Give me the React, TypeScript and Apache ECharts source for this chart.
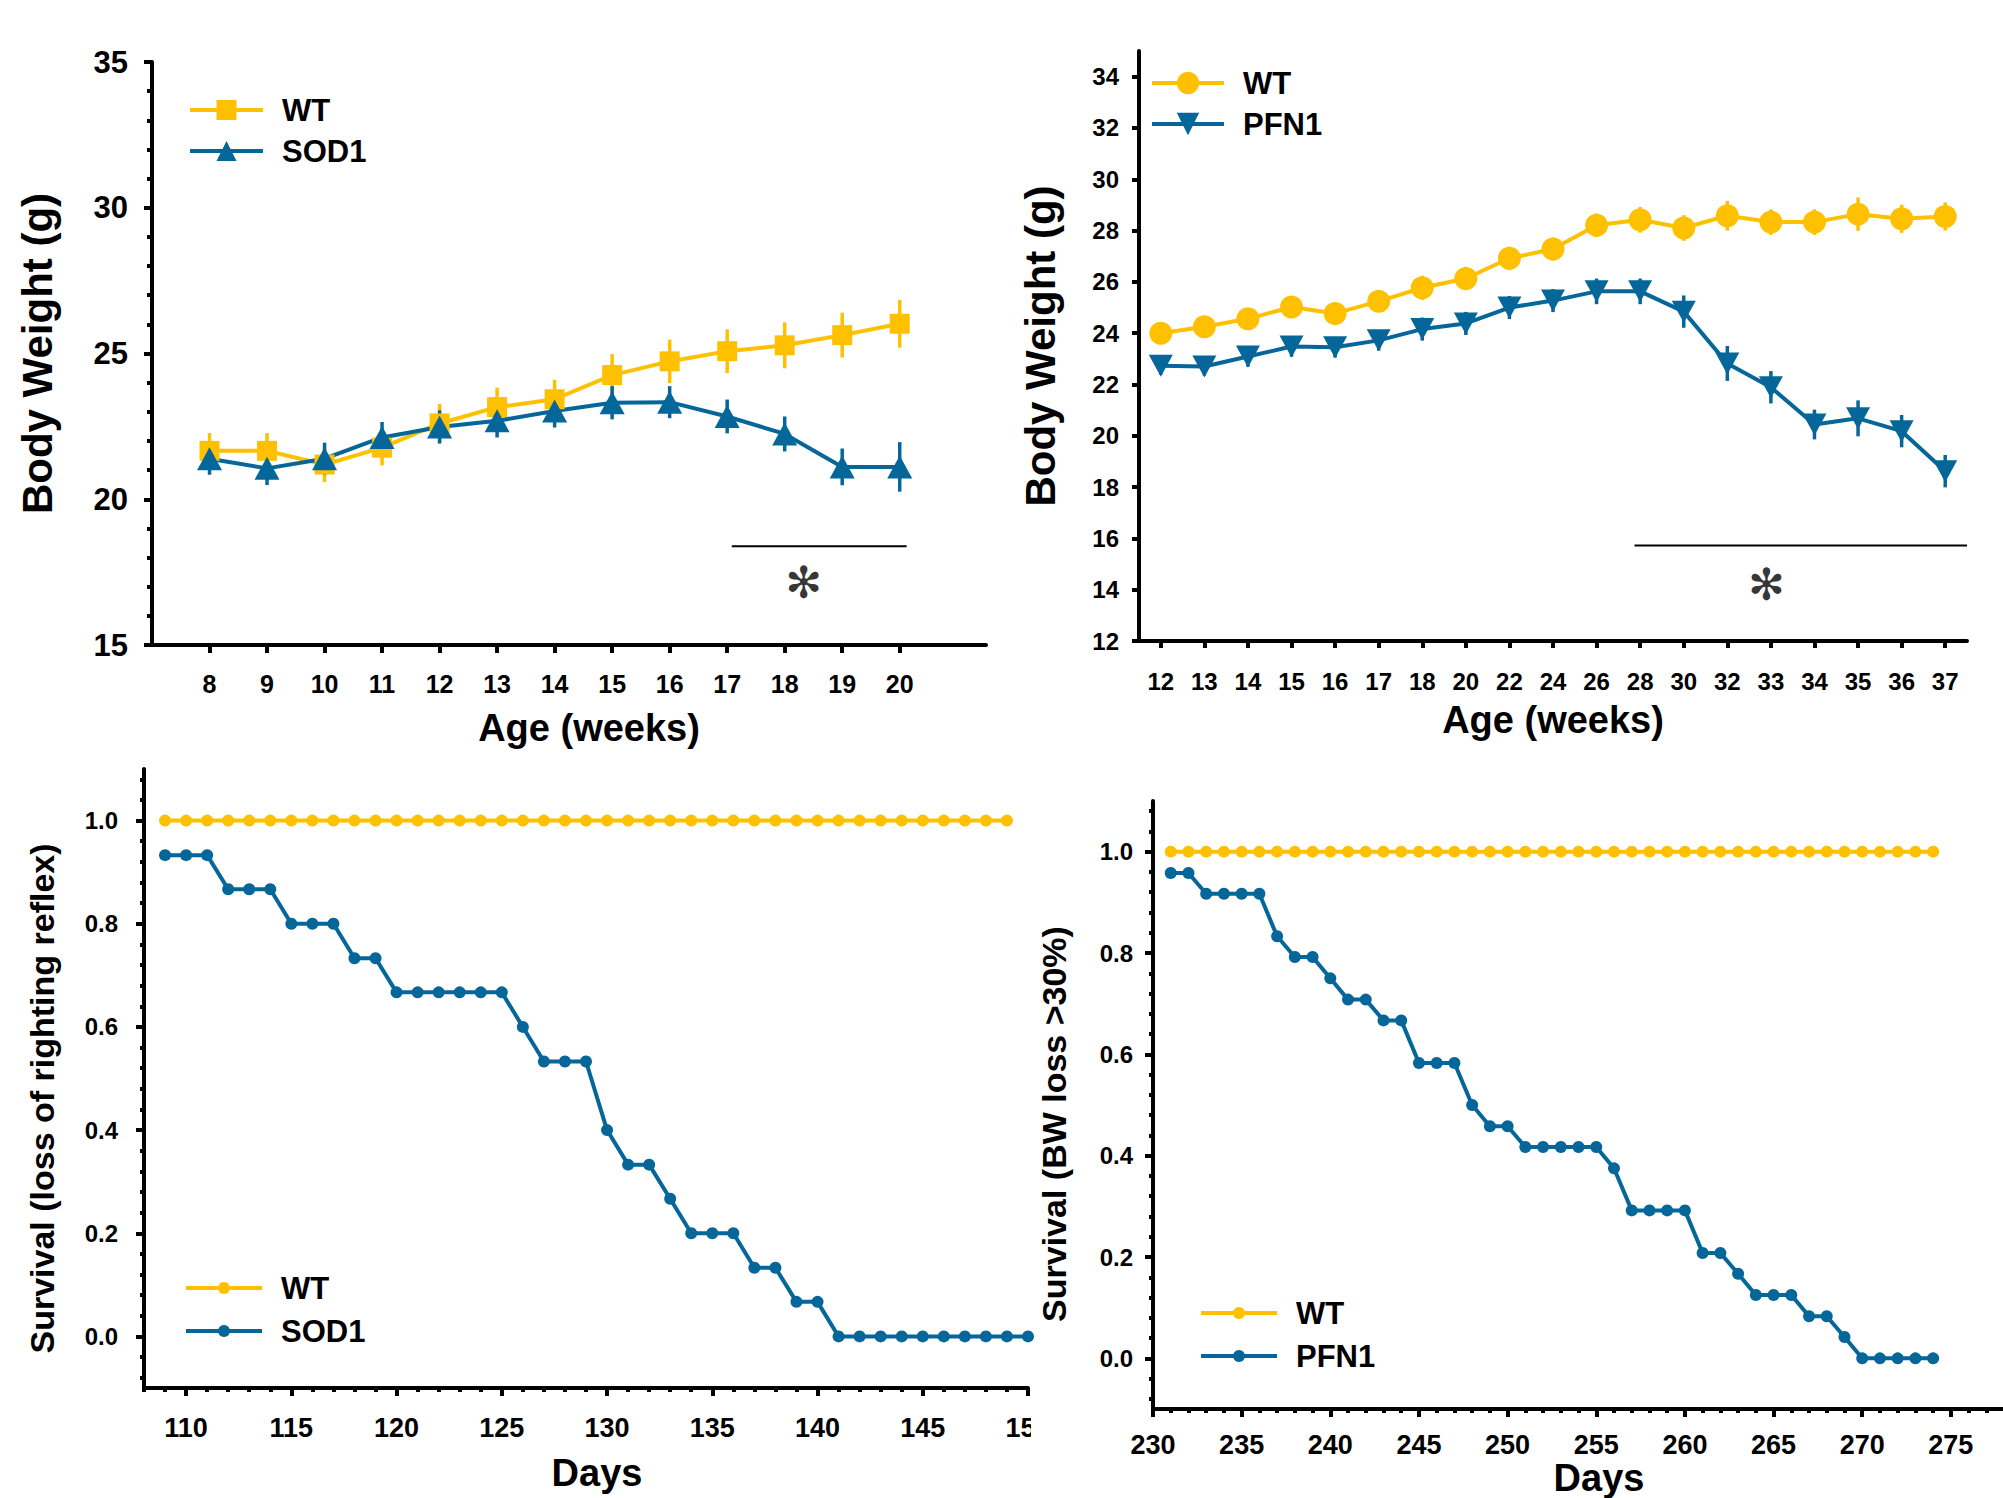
import React, { useEffect, useRef } from 'react';
import * as echarts from 'echarts';

const FONT = '"Liberation Sans", Arial, Helvetica, sans-serif';
const YELLOW = '#FFC000';
const BLUE = '#05669A';

// ---------- Panel A : SOD1 body weight ----------
const weeksA = [8, 9, 10, 11, 12, 13, 14, 15, 16, 17, 18, 19, 20];
const wtA = [21.66, 21.66, 21.19, 21.77, 22.6, 23.16, 23.43, 24.26, 24.73, 25.08, 25.28, 25.63, 26.02];
const wtAErr = [0.61, 0.61, 0.6, 0.61, 0.67, 0.67, 0.67, 0.72, 0.75, 0.75, 0.79, 0.77, 0.82];
const sodA = [21.39, 21.06, 21.39, 22.12, 22.48, 22.69, 23.03, 23.31, 23.33, 22.84, 22.24, 21.11, 21.11];
const sodAErr = [0.55, 0.57, 0.55, 0.53, 0.57, 0.57, 0.57, 0.57, 0.55, 0.58, 0.6, 0.63, 0.85];
const yTicksA = [15, 20, 25, 30, 35];
const sigLineA = [[17.08, 18.39], [20.12, 18.39]];
const starA = [18.33, 17.16];

// ---------- Panel B : PFN1 body weight ----------
const weeksB = ['12', '13', '14', '15', '16', '17', '18', '20', '22', '24', '26', '28', '30', '32', '33', '34', '35', '36', '37'];
const wtB = [24.0, 24.25, 24.56, 25.02, 24.77, 25.24, 25.77, 26.13, 26.92, 27.28, 28.21, 28.42, 28.1, 28.58, 28.33, 28.33, 28.64, 28.46, 28.55];
const wtBErr = [0.35, 0.35, 0.35, 0.4, 0.35, 0.4, 0.47, 0.45, 0.45, 0.45, 0.46, 0.5, 0.5, 0.58, 0.5, 0.5, 0.65, 0.55, 0.55];
const pfnB = [22.73, 22.7, 23.09, 23.48, 23.45, 23.72, 24.16, 24.38, 25.0, 25.27, 25.63, 25.63, 24.84, 22.82, 21.89, 20.44, 20.68, 20.18, 18.62];
const pfnBErr = [0.35, 0.35, 0.4, 0.4, 0.4, 0.4, 0.45, 0.45, 0.45, 0.45, 0.5, 0.5, 0.63, 0.68, 0.63, 0.58, 0.7, 0.63, 0.63];
const yTicksB = [12, 14, 16, 18, 20, 22, 24, 26, 28, 30, 32, 34];
const sigLineB = [[10.87, 15.72], [18.5, 15.72]];
const starB = [13.9, 14.22];

// ---------- Panel C : SOD1 survival ----------
const wtCDays = [109, 110, 111, 112, 113, 114, 115, 116, 117, 118, 119, 120, 121, 122, 123, 124, 125, 126, 127, 128, 129, 130, 131, 132, 133, 134, 135, 136, 137, 138, 139, 140, 141, 142, 143, 144, 145, 146, 147, 148, 149];
const wtC = [1, 1, 1, 1, 1, 1, 1, 1, 1, 1, 1, 1, 1, 1, 1, 1, 1, 1, 1, 1, 1, 1, 1, 1, 1, 1, 1, 1, 1, 1, 1, 1, 1, 1, 1, 1, 1, 1, 1, 1, 1];
const sodCDays = [109, 110, 111, 112, 113, 114, 115, 116, 117, 118, 119, 120, 121, 122, 123, 124, 125, 126, 127, 128, 129, 130, 131, 132, 133, 134, 135, 136, 137, 138, 139, 140, 141, 142, 143, 144, 145, 146, 147, 148, 149, 150];
const sodC = [0.933, 0.933, 0.933, 0.867, 0.867, 0.867, 0.8, 0.8, 0.8, 0.733, 0.733, 0.667, 0.667, 0.667, 0.667, 0.667, 0.667, 0.6, 0.533, 0.533, 0.533, 0.4, 0.333, 0.333, 0.267, 0.2, 0.2, 0.2, 0.133, 0.133, 0.067, 0.067, 0, 0, 0, 0, 0, 0, 0, 0, 0, 0];
const xTicksC = [110, 115, 120, 125, 130, 135, 140, 145, 150];

// ---------- Panel D : PFN1 survival ----------
const wtDDays = [231, 232, 233, 234, 235, 236, 237, 238, 239, 240, 241, 242, 243, 244, 245, 246, 247, 248, 249, 250, 251, 252, 253, 254, 255, 256, 257, 258, 259, 260, 261, 262, 263, 264, 265, 266, 267, 268, 269, 270, 271, 272, 273, 274];
const wtD = [1, 1, 1, 1, 1, 1, 1, 1, 1, 1, 1, 1, 1, 1, 1, 1, 1, 1, 1, 1, 1, 1, 1, 1, 1, 1, 1, 1, 1, 1, 1, 1, 1, 1, 1, 1, 1, 1, 1, 1, 1, 1, 1, 1];
const pfnDDays = [231, 232, 233, 234, 235, 236, 237, 238, 239, 240, 241, 242, 243, 244, 245, 246, 247, 248, 249, 250, 251, 252, 253, 254, 255, 256, 257, 258, 259, 260, 261, 262, 263, 264, 265, 266, 267, 268, 269, 270, 271, 272, 273, 274];
const pfnD = [0.958, 0.958, 0.917, 0.917, 0.917, 0.917, 0.833, 0.792, 0.792, 0.75, 0.708, 0.708, 0.667, 0.667, 0.583, 0.583, 0.583, 0.5, 0.458, 0.458, 0.417, 0.417, 0.417, 0.417, 0.417, 0.375, 0.292, 0.292, 0.292, 0.292, 0.208, 0.208, 0.167, 0.125, 0.125, 0.125, 0.083, 0.083, 0.042, 0, 0, 0, 0, 0];
const xTicksD = [230, 235, 240, 245, 250, 255, 260, 265, 270, 275];

const survTicks = [0, 0.2, 0.4, 0.6, 0.8, 1.0];

const minorSurv: number[] = [];
for (let k = -2; k <= 27; k++) if (k % 5 !== 0) minorSurv.push(+(k * 0.04).toFixed(2));
const minorDays = (a: number, b: number) => {
  const r: number[] = [];
  for (let d = a; d <= b; d++) if (d % 5 !== 0) r.push(d);
  return r;
};

const DOWN_TRI = 'path://M0,0 L10,0 L5,9 Z';

const axisLineStyle = { show: true, onZero: false, lineStyle: { color: '#000', width: 4 } };
const noLine = { show: false, onZero: false };
const tickStyle = (len: number, values?: number[]) => ({
  show: true,
  inside: false,
  length: len,
  lineStyle: { color: '#000', width: 4 },
  ...(values ? { customValues: values } : {}),
});
const labelStyle = (fs: number, margin: number, extra: any = {}) => ({
  show: true,
  fontSize: fs,
  fontWeight: 'bold',
  fontFamily: FONT,
  color: '#000',
  margin,
  ...extra,
});
const nameStyle = (fs: number, padding: number[] = [0, 0, 0, 0]) => ({
  fontSize: fs,
  fontWeight: 'bold',
  fontFamily: FONT,
  color: '#000',
  padding,
});

const errSeries = (name: string, xi: number, yi: number, xs: number[], ys: number[], es: number[], color: string) => ({
  type: 'custom',
  name,
  xAxisIndex: xi,
  yAxisIndex: yi,
  z: 1,
  silent: true,
  encode: { x: 0, y: [1, 2] },
  data: xs.map((x, i) => [x, ys[i] - es[i], ys[i] + es[i]]),
  renderItem: (params: any, api: any) => {
    const x = api.value(0);
    const p1 = api.coord([x, api.value(1)]);
    const p2 = api.coord([x, api.value(2)]);
    return {
      type: 'line',
      shape: { x1: p1[0], y1: p1[1], x2: p2[0], y2: p2[1] },
      style: { stroke: color, lineWidth: 3.5 },
    };
  },
});

const lineSeries = (name: string, xi: number, yi: number, xs: number[], ys: number[], color: string, symbol: string, size: any) => ({
  type: 'line',
  name,
  xAxisIndex: xi,
  yAxisIndex: yi,
  z: 3,
  symbol,
  symbolSize: size,
  showAllSymbol: true,
  data: xs.map((x, i) => [x, ys[i]]),
  lineStyle: { color, width: 4 },
  itemStyle: { color, borderWidth: 0 },
});

const sigSeries = (xi: number, yi: number, pts: number[][]) => ({
  type: 'line',
  name: 'sig',
  xAxisIndex: xi,
  yAxisIndex: yi,
  symbol: 'none',
  silent: true,
  data: pts,
  lineStyle: { color: '#000', width: 2 },
});

const starSeries = (xi: number, yi: number, pt: number[]) => ({
  type: 'scatter',
  name: 'star',
  xAxisIndex: xi,
  yAxisIndex: yi,
  symbolSize: 1,
  itemStyle: { color: 'rgba(0,0,0,0)' },
  silent: true,
  data: [pt],
  label: {
    show: true,
    position: 'inside',
    formatter: '\u273B',
    fontSize: 44,
    fontFamily: '"DejaVu Sans", sans-serif',
    fontWeight: 'bold',
    color: '#000',
  },
});

const legendOf = (names: string[], left: number, top: number, itemWidth: number, itemHeight: number, gap: number) => ({
  data: names,
  orient: 'vertical',
  left,
  top,
  itemWidth,
  itemHeight,
  itemGap: gap,
  selectedMode: false,
  formatter: (n: string) => n.split('|')[0],
  lineStyle: { width: 4 },
  textStyle: {
    fontSize: 31,
    fontWeight: 'bold',
    fontFamily: FONT,
    color: '#000',
    lineHeight: 32,
    padding: [0, 0, 0, 14],
  },
});

export default function App() {
  const ref = useRef<HTMLDivElement>(null);
  useEffect(() => {
    if (!ref.current) return;
    const chart = echarts.init(ref.current, undefined, { renderer: 'svg' });
    const option: any = {
      animation: false,
      backgroundColor: '#fff',
      textStyle: { fontFamily: FONT },
      grid: [
        { left: 152, top: 62, width: 834, height: 583, outerBoundsMode: 'none', containLabel: false },
        { left: 1139, top: 51, width: 828, height: 590, outerBoundsMode: 'none', containLabel: false },
        { left: 144, top: 769, width: 884, height: 619, outerBoundsMode: 'none', containLabel: false },
        { left: 1153, top: 801, width: 850, height: 608, outerBoundsMode: 'none', containLabel: false },
      ],
      xAxis: [
        {
          gridIndex: 0, type: 'value', min: 7, max: 21.5,
          axisLine: axisLineStyle, splitLine: { show: false },
          axisTick: tickStyle(8, weeksA),
          axisLabel: labelStyle(25, 26, { customValues: weeksA }),
          name: 'Age (weeks)', nameLocation: 'middle', nameGap: 64,
          nameTextStyle: nameStyle(38, [0, 0, 0, 40]),
        },
        {
          gridIndex: 1, type: 'value', min: -0.5, max: 18.5,
          axisLine: axisLineStyle, splitLine: { show: false },
          axisTick: tickStyle(7, weeksB.map((_, i) => i)),
          axisLabel: labelStyle(24, 28, {
            customValues: weeksB.map((_, i) => i),
            formatter: (v: number) => weeksB[Math.round(v)],
          }),
          name: 'Age (weeks)', nameLocation: 'middle', nameGap: 60,
          nameTextStyle: nameStyle(38),
        },
        {
          gridIndex: 2, type: 'value', min: 108, max: 150,
          axisLine: axisLineStyle, splitLine: { show: false },
          axisTick: tickStyle(8, xTicksC),
          axisLabel: labelStyle(27, 26, { customValues: xTicksC }),
          name: 'Days', nameLocation: 'middle', nameGap: 66,
          nameTextStyle: nameStyle(38, [0, 0, 0, 22]),
        },
        {
          gridIndex: 2, type: 'value', min: 108, max: 150, position: 'bottom',
          axisLine: noLine, splitLine: { show: false }, axisLabel: { show: false },
          axisTick: tickStyle(4, minorDays(108, 150)),
        },
        {
          gridIndex: 3, type: 'value', min: 230, max: 277.94,
          axisLine: axisLineStyle, splitLine: { show: false },
          axisTick: tickStyle(8, xTicksD),
          axisLabel: labelStyle(27, 22, { customValues: xTicksD }),
          name: 'Days', nameLocation: 'middle', nameGap: 50,
          nameTextStyle: nameStyle(38, [0, 0, 0, 42]),
        },
        {
          gridIndex: 3, type: 'value', min: 230, max: 277.94, position: 'bottom',
          axisLine: noLine, splitLine: { show: false }, axisLabel: { show: false },
          axisTick: tickStyle(4, minorDays(230, 277)),
        },
      ],
      yAxis: [
        {
          gridIndex: 0, type: 'value', min: 15, max: 35, interval: 5,
          axisLine: axisLineStyle, splitLine: { show: false },
          axisTick: tickStyle(8, yTicksA),
          minorTick: { show: true, splitNumber: 5, length: 5, lineStyle: { color: '#000', width: 4 } },
          minorSplitLine: { show: false },
          axisLabel: labelStyle(31, 24, { customValues: yTicksA }),
          name: 'Body Weight (g)', nameLocation: 'middle', nameGap: 94,
          nameTextStyle: nameStyle(42),
        },
        {
          gridIndex: 1, type: 'value', min: 12, max: 35,
          axisLine: axisLineStyle, splitLine: { show: false },
          axisTick: tickStyle(7, yTicksB),
          axisLabel: labelStyle(24, 20, { customValues: yTicksB }),
          name: 'Body Weight (g)', nameLocation: 'middle', nameGap: 78,
          nameTextStyle: nameStyle(42),
        },
        {
          gridIndex: 2, type: 'value', min: -0.1, max: 1.1,
          axisLine: axisLineStyle, splitLine: { show: false },
          axisTick: tickStyle(8, survTicks),
          axisLabel: labelStyle(24, 26, { customValues: survTicks, formatter: (v: number) => v.toFixed(1) }),
          name: 'Survival (loss of righting reflex)', nameLocation: 'middle', nameGap: 85,
          nameTextStyle: nameStyle(34, [0, 40, 0, 0]),
        },
        {
          gridIndex: 2, type: 'value', min: -0.1, max: 1.1, position: 'left',
          axisLine: noLine, splitLine: { show: false }, axisLabel: { show: false },
          axisTick: tickStyle(4, minorSurv),
        },
        {
          gridIndex: 3, type: 'value', min: -0.1, max: 1.1,
          axisLine: axisLineStyle, splitLine: { show: false },
          axisTick: tickStyle(8, survTicks),
          axisLabel: labelStyle(24, 20, { customValues: survTicks, formatter: (v: number) => v.toFixed(1) }),
          name: 'Survival (BW loss >30%)', nameLocation: 'middle', nameGap: 82,
          nameTextStyle: nameStyle(34, [0, 38, 0, 0]),
        },
        {
          gridIndex: 3, type: 'value', min: -0.1, max: 1.1, position: 'left',
          axisLine: noLine, splitLine: { show: false }, axisLabel: { show: false },
          axisTick: tickStyle(4, minorSurv),
        },
      ],
      legend: [
        legendOf(['WT|A', 'SOD1|A'], 183, 89, 73, 25, 9),
        legendOf(['WT|B', 'PFN1|B'], 1145, 62, 72, 28, 9),
        legendOf(['WT|C', 'SOD1|C'], 179, 1267, 76, 15, 11),
        legendOf(['WT|D', 'PFN1|D'], 1194, 1292, 76, 15, 11),
      ],
      series: [
        errSeries('errWTA', 0, 0, weeksA, wtA, wtAErr, YELLOW),
        errSeries('errSODA', 0, 0, weeksA, sodA, sodAErr, BLUE),
        lineSeries('WT|A', 0, 0, weeksA, wtA, YELLOW, 'rect', 20),
        lineSeries('SOD1|A', 0, 0, weeksA, sodA, BLUE, 'triangle', [25, 23]),
        sigSeries(0, 0, sigLineA),
        starSeries(0, 0, starA),

        errSeries('errWTB', 1, 1, weeksB.map((_, i) => i), wtB, wtBErr, YELLOW),
        errSeries('errPFNB', 1, 1, weeksB.map((_, i) => i), pfnB, pfnBErr, BLUE),
        lineSeries('WT|B', 1, 1, weeksB.map((_, i) => i), wtB, YELLOW, 'circle', 23),
        lineSeries('PFN1|B', 1, 1, weeksB.map((_, i) => i), pfnB, BLUE, DOWN_TRI, [24, 22]),
        sigSeries(1, 1, sigLineB),
        starSeries(1, 1, starB),

        lineSeries('WT|C', 2, 2, wtCDays, wtC, YELLOW, 'circle', 12),
        lineSeries('SOD1|C', 2, 2, sodCDays, sodC, BLUE, 'circle', 12),

        lineSeries('WT|D', 4, 4, wtDDays, wtD, YELLOW, 'circle', 12),
        lineSeries('PFN1|D', 4, 4, pfnDDays, pfnD, BLUE, 'circle', 12),
      ],
      graphic: [
        {
          type: 'rect',
          z: 100,
          shape: { x: 1031, y: 1398, width: 36, height: 50 },
          style: { fill: '#fff' },
        },
      ],
    };
    chart.setOption(option);
    return () => chart.dispose();
  }, []);
  return (
    <div
      ref={ref}
      style={{ position: 'fixed', left: 0, top: 0, width: 2003, height: 1498, background: '#fff' }}
    />
  );
}
